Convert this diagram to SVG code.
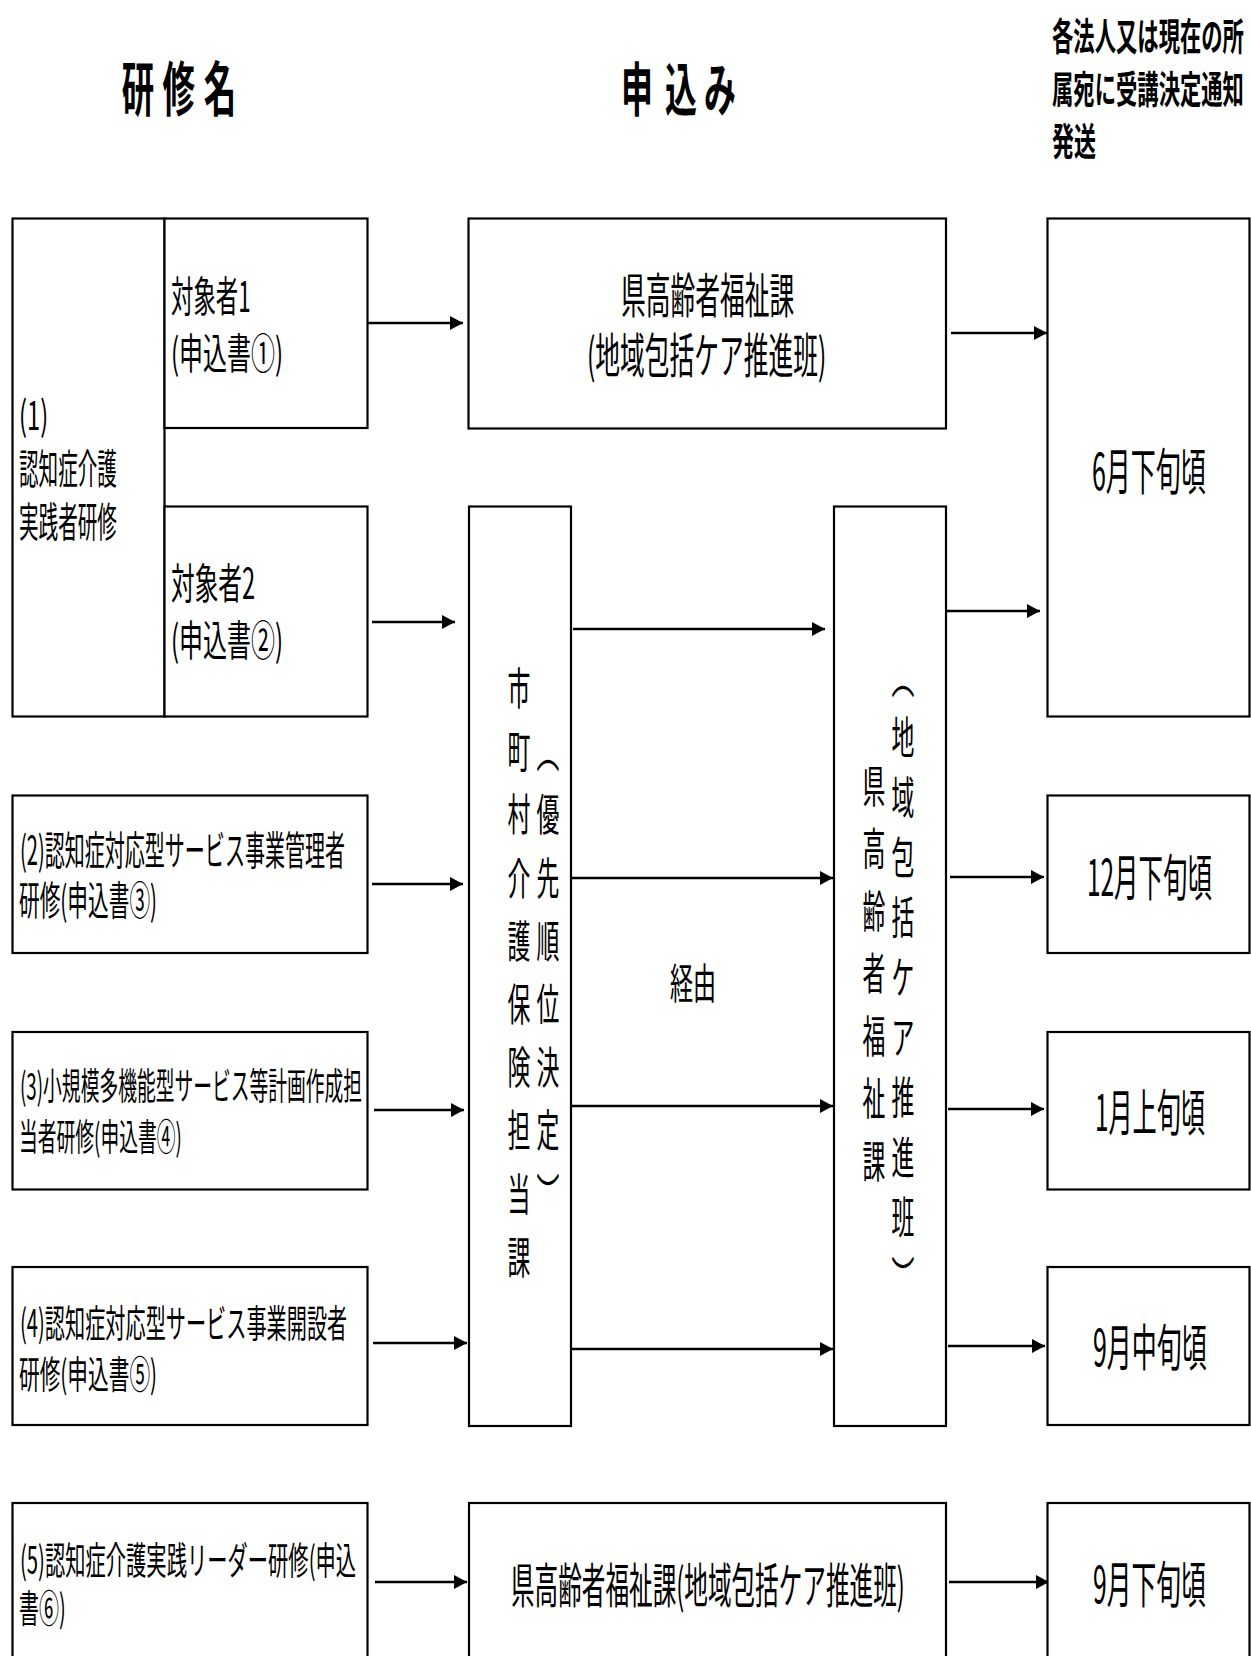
<svg xmlns="http://www.w3.org/2000/svg" width="1251" height="1656" viewBox="0 0 1251 1656">
<style>
.b{fill:#fff;stroke:#000;stroke-width:2.2}
.t{font-family:"Noto Sans CJK JP","Noto Sans CJK SC",sans-serif;fill:#000}
.h{font-family:"Noto Sans CJK JP","Noto Sans CJK SC",sans-serif;fill:#000;font-weight:700}
.c{stroke:#000;stroke-width:2.4;fill:none;marker-end:url(#ah)}
</style>
<defs>
<marker id="ah" markerUnits="userSpaceOnUse" markerWidth="15" markerHeight="15" refX="13" refY="7" orient="auto">
<path d="M0,0 L13,7 L0,14 Z" fill="#000"/>
</marker>
</defs>
<rect width="1251" height="1656" fill="#fff"/>

<g id="header">
<text class="h" font-size="59" text-anchor="middle" transform="translate(0,111) scale(0.55,1)" x="251 325 400" y="0">研修名</text>
<text class="h" font-size="58" text-anchor="middle" transform="translate(0,111) scale(0.55,1)" x="1158 1238 1309" y="0">申込み</text>
<text class="h" font-size="38" transform="translate(1052,50) scale(0.55,1)" textLength="349" lengthAdjust="spacingAndGlyphs">各法人又は現在の所</text>
<text class="h" font-size="38" transform="translate(1052,103) scale(0.55,1)" textLength="349" lengthAdjust="spacingAndGlyphs">属宛に受講決定通知</text>
<text class="h" font-size="38" transform="translate(1052,155) scale(0.55,1)" textLength="80" lengthAdjust="spacingAndGlyphs">発送</text>
</g>

<g id="connectors">
<line class="c" x1="367" y1="323" x2="463" y2="323"/>
<line class="c" x1="951" y1="333" x2="1047" y2="333"/>
<line class="c" x1="372" y1="622" x2="455" y2="622"/>
<line class="c" x1="573" y1="629" x2="825" y2="629"/>
<line class="c" x1="946" y1="611" x2="1040" y2="611"/>
<line class="c" x1="372" y1="884" x2="463" y2="884"/>
<line class="c" x1="571" y1="878" x2="833" y2="878"/>
<line class="c" x1="950" y1="877" x2="1044" y2="877"/>
<line class="c" x1="374" y1="1110" x2="464" y2="1110"/>
<line class="c" x1="571" y1="1106" x2="833" y2="1106"/>
<line class="c" x1="948" y1="1109" x2="1044" y2="1109"/>
<line class="c" x1="373" y1="1343" x2="467" y2="1343"/>
<line class="c" x1="571" y1="1349" x2="833" y2="1349"/>
<line class="c" x1="948" y1="1346" x2="1045" y2="1346"/>
<line class="c" x1="375" y1="1582" x2="467" y2="1582"/>
<line class="c" x1="949" y1="1582" x2="1049" y2="1582"/>
</g>

<g id="n1">
<rect class="b" x="12.5" y="218.5" width="152" height="498"/>
<text class="t" font-size="40" transform="translate(19,430) scale(0.55,1)" textLength="53" lengthAdjust="spacingAndGlyphs">(1)</text>
<text class="t" font-size="41" transform="translate(19,484) scale(0.55,1)" textLength="178" lengthAdjust="spacingAndGlyphs">認知症介護</text>
<text class="t" font-size="41" transform="translate(19,537) scale(0.55,1)" textLength="178" lengthAdjust="spacingAndGlyphs">実践者研修</text>
</g>
<g id="n1a">
<rect class="b" x="164.5" y="218.5" width="203" height="209.5"/>
<text class="t" font-size="42" transform="translate(171,312) scale(0.55,1)" textLength="145" lengthAdjust="spacingAndGlyphs">対象者1</text>
<text class="t" font-size="42" transform="translate(171,369) scale(0.55,1)" textLength="204" lengthAdjust="spacingAndGlyphs">(申込書①)</text>
</g>
<g id="n1b">
<rect class="b" x="164.5" y="506.5" width="203" height="210"/>
<text class="t" font-size="42" transform="translate(171,599) scale(0.55,1)" textLength="153" lengthAdjust="spacingAndGlyphs">対象者2</text>
<text class="t" font-size="42" transform="translate(171,656) scale(0.55,1)" textLength="204" lengthAdjust="spacingAndGlyphs">(申込書②)</text>
</g>
<g id="n2">
<rect class="b" x="12.5" y="795.5" width="355" height="157.5"/>
<text class="t" font-size="40" transform="translate(20,865) scale(0.55,1)" textLength="591" lengthAdjust="spacingAndGlyphs">(2)認知症対応型サービス事業管理者</text>
<text class="t" font-size="40" transform="translate(19,915) scale(0.55,1)" textLength="251" lengthAdjust="spacingAndGlyphs">研修(申込書③)</text>
</g>
<g id="n3">
<rect class="b" x="12.5" y="1032" width="355" height="157.5"/>
<text class="t" font-size="37" transform="translate(20,1100) scale(0.55,1)" textLength="622" lengthAdjust="spacingAndGlyphs">(3)小規模多機能型サービス等計画作成担</text>
<text class="t" font-size="37" transform="translate(19,1151) scale(0.55,1)" textLength="296" lengthAdjust="spacingAndGlyphs">当者研修(申込書④)</text>
</g>
<g id="n4">
<rect class="b" x="12.5" y="1267" width="355" height="158"/>
<text class="t" font-size="38" transform="translate(20,1337) scale(0.55,1)" textLength="595" lengthAdjust="spacingAndGlyphs">(4)認知症対応型サービス事業開設者</text>
<text class="t" font-size="38" transform="translate(19,1388) scale(0.55,1)" textLength="251" lengthAdjust="spacingAndGlyphs">研修(申込書⑤)</text>
</g>
<g id="n5">
<rect class="b" x="12.5" y="1503" width="355" height="200"/>
<text class="t" font-size="38" transform="translate(20,1574) scale(0.55,1)" textLength="611" lengthAdjust="spacingAndGlyphs">(5)認知症介護実践リーダー研修(申込</text>
<text class="t" font-size="38" transform="translate(19,1622) scale(0.55,1)" textLength="85" lengthAdjust="spacingAndGlyphs">書⑥)</text>
</g>

<g id="kenTop">
<rect class="b" x="468.5" y="218.5" width="477.5" height="210"/>
<text class="t" font-size="48" transform="translate(621,313) scale(0.55,1)" textLength="315" lengthAdjust="spacingAndGlyphs">県高齢者福祉課</text>
<text class="t" font-size="48" transform="translate(587,373) scale(0.55,1)" textLength="435" lengthAdjust="spacingAndGlyphs">(地域包括ケア推進班)</text>
</g>
<g id="shichoson">
<rect class="b" x="469" y="506.5" width="102" height="919.5"/>
<text class="t" font-size="44" text-anchor="middle" transform="translate(519,0) scale(0.52,1)" x="0 0 0 0 0 0 0 0 0 0" y="705 768 831 895 958 1021 1084 1147 1211 1274">市町村介護保険担当課</text>
<text class="t" font-size="44" text-anchor="middle" transform="translate(548,0) scale(0.52,1)" x="0 0 0 0 0 0 0 0" y="768 831 895 958 1021 1084 1147 1211">︵優先順位決定︶</text>
</g>
<g id="kenV">
<rect class="b" x="834" y="506.5" width="112" height="919.5"/>
<text class="t" font-size="44" text-anchor="middle" transform="translate(874,0) scale(0.52,1)" x="0 0 0 0 0 0 0" y="803 865 928 990 1053 1115 1178">県高齢者福祉課</text>
<text class="t" font-size="44" text-anchor="middle" transform="translate(903,0) scale(0.52,1)" x="0 0 0 0 0 0 0 0 0 0 0" y="694 754 814 874 934 994 1054 1114 1174 1234 1294">︵地域包括ケア推進班︶</text>
</g>
<g id="keiyu">
<text class="t" font-size="42" transform="translate(670,999) scale(0.55,1)" textLength="84" lengthAdjust="spacingAndGlyphs">経由</text>
</g>
<g id="ken5">
<rect class="b" x="469" y="1503" width="477" height="200"/>
<text class="t" font-size="48" transform="translate(511,1603) scale(0.55,1)" textLength="716" lengthAdjust="spacingAndGlyphs">県高齢者福祉課(地域包括ケア推進班)</text>
</g>

<g id="d1">
<rect class="b" x="1047.5" y="218.5" width="202" height="498"/>
<text class="t" font-size="50" transform="translate(1092,490) scale(0.55,1)" textLength="207" lengthAdjust="spacingAndGlyphs">6月下旬頃</text>
</g>
<g id="d2">
<rect class="b" x="1047.5" y="795.5" width="202" height="157.5"/>
<text class="t" font-size="50" transform="translate(1087,896) scale(0.55,1)" textLength="227" lengthAdjust="spacingAndGlyphs">12月下旬頃</text>
</g>
<g id="d3">
<rect class="b" x="1047.5" y="1032" width="202" height="157.5"/>
<text class="t" font-size="50" transform="translate(1095,1131) scale(0.55,1)" textLength="200" lengthAdjust="spacingAndGlyphs">1月上旬頃</text>
</g>
<g id="d4">
<rect class="b" x="1047.5" y="1267" width="202" height="158"/>
<text class="t" font-size="50" transform="translate(1093,1366) scale(0.55,1)" textLength="207" lengthAdjust="spacingAndGlyphs">9月中旬頃</text>
</g>
<g id="d5">
<rect class="b" x="1047.5" y="1503" width="202" height="200"/>
<text class="t" font-size="50" transform="translate(1093,1603) scale(0.55,1)" textLength="205" lengthAdjust="spacingAndGlyphs">9月下旬頃</text>
</g>
</svg>
